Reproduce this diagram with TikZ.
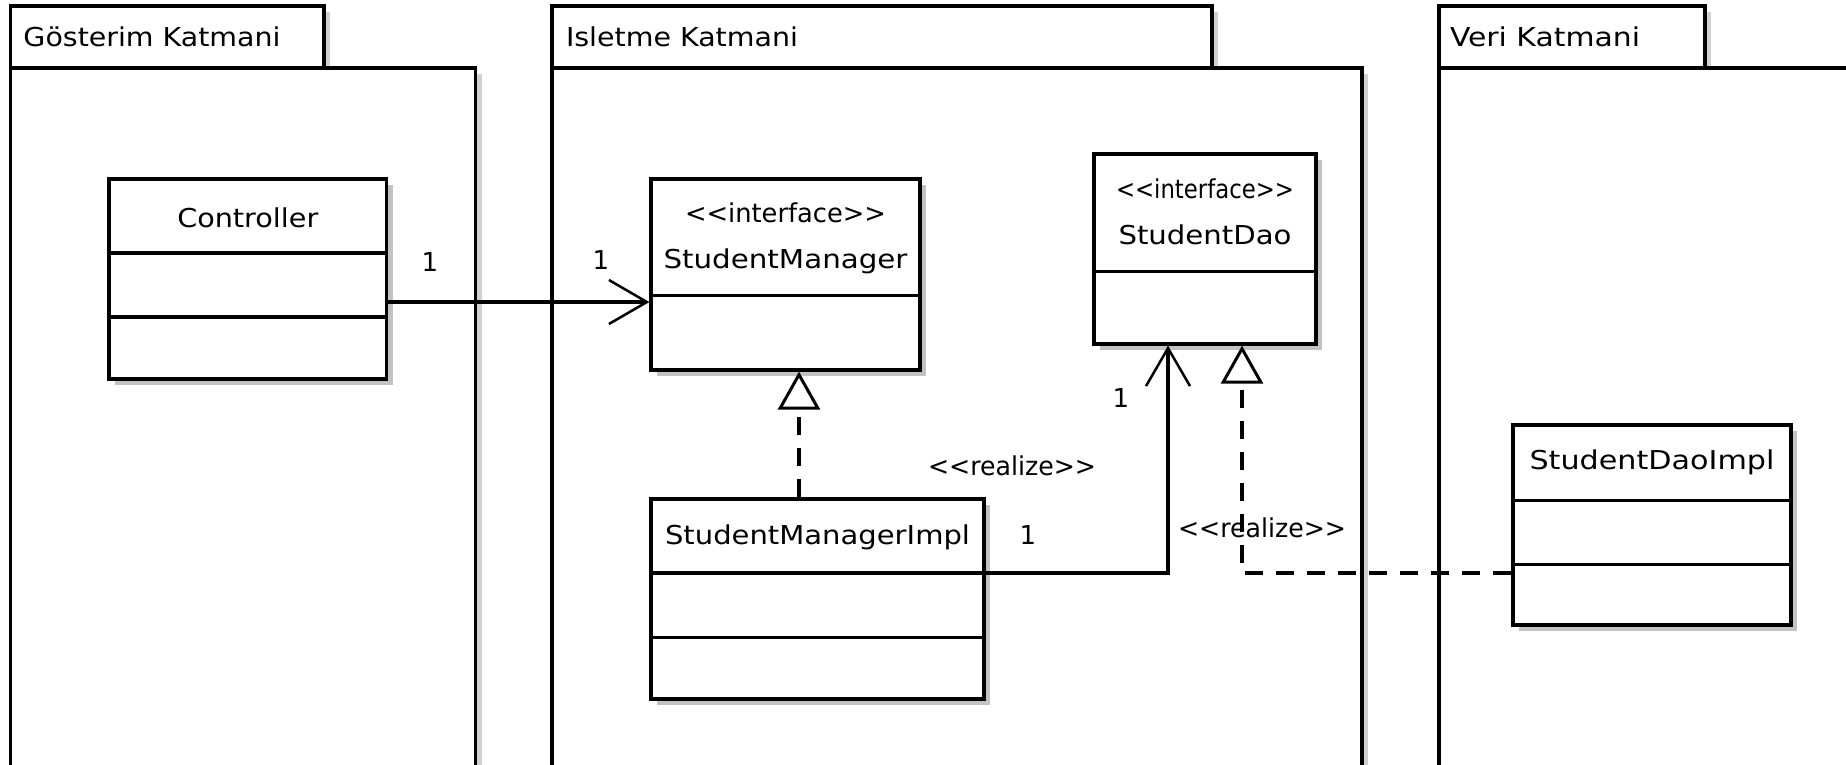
\documentclass[tikz,border=0pt]{standalone}
\usepackage{fontspec}
\setmainfont{DejaVu Sans}[Ligatures=TeXOff]
\usetikzlibrary{arrows.meta,fit,shadows}
% set a label to a fixed width, keeping its natural height
\newcommand{\wtxt}[2]{\resizebox{#1}{\height}{#2}}
\tikzset{
  ln/.style={line width=1.6pt, draw=black},
  umlbox/.style={ln, fill=white, inner sep=0pt,
    general shadow={fill=black!24, shadow xshift=3pt, shadow yshift=-3pt}},
  pkgpart/.style={ln, fill=white, inner sep=0pt,
    general shadow={fill=black!18, shadow xshift=3pt, shadow yshift=-3pt}},
  lbl/.style={inner sep=0pt, font=\fontsize{13}{15}\selectfont},
  assoc/.style={ln, -{Straight Barb[length=19pt,width=22pt,line width=1.25pt]}},
  realize/.style={ln, dash pattern=on 9pt off 6.5pt,
    -{Triangle[open,fill=white,length=19pt,width=21pt,line width=1.5pt]}},
}
\begin{document}
\begin{tikzpicture}[x=0.5pt, y=-0.5pt]
\useasboundingbox (0,0) rectangle (1846,765);
\clip (0,0) rectangle (1846,765);

% ---- packages (layers) ----
\node[pkgpart, fit={(10.5,6) (324,68)}] (tabA) {};
\node[pkgpart, fit={(10.5,68) (475.5,830)}] (pkgA) {};
\node[lbl] (titleA) at (152,37) {\wtxt{128.5pt}{Gösterim Katmani}};

\node[pkgpart, fit={(552,6) (1212,68)}] (tabB) {};
\node[pkgpart, fit={(552,68) (1362,830)}] (pkgB) {};
\node[lbl] (titleB) at (682,37) {\wtxt{116pt}{Isletme Katmani}};

\node[pkgpart, fit={(1439,6) (1705,68)}] (tabC) {};
\node[pkgpart, fit={(1439,68) (1920,830)}] (pkgC) {};
\node[lbl] (titleC) at (1545,37) {\wtxt{95pt}{Veri Katmani}};

% ---- classes ----
\node[umlbox, fit={(109,179) (386.5,379)}] (ctrl) {};
\draw[ln] (ctrl.west |- 0,253) -- (ctrl.east |- 0,253);
\draw[ln] (ctrl.west |- 0,317) -- (ctrl.east |- 0,317);
\node[lbl] (ctrlN) at (247.75,218) {\wtxt{70.5pt}{Controller}};

\node[umlbox, fit={(651,179) (920,370)}] (sm) {};
\draw[ln] (sm.west |- 0,295.5) -- (sm.east |- 0,295.5);
\node[lbl] (smS) at (785.5,213) {\wtxt{100.5pt}{<<interface>>}};
\node[lbl] (smN) at (785.5,261) {\wtxt{122pt}{StudentManager}};

\node[umlbox, fit={(1094,154) (1316,344)}] (sd) {};
\draw[ln] (sd.west |- 0,271.5) -- (sd.east |- 0,271.5);
\node[lbl] (sdS) at (1205,189) {\wtxt{89pt}{<<interface>>}};
\node[lbl] (sdN) at (1205,235) {\wtxt{86.5pt}{StudentDao}};

\node[umlbox, fit={(651,499) (984,699)}] (smi) {};
\draw[ln] (smi.west |- 0,573) -- (smi.east |- 0,573);
\draw[ln] (smi.west |- 0,637.5) -- (smi.east |- 0,637.5);
\node[lbl] (smiN) at (817.5,537) {\wtxt{152.5pt}{StudentManagerImpl}};

\node[umlbox, fit={(1513,425) (1791,625)}] (sdi) {};
\draw[ln] (sdi.west |- 0,500.5) -- (sdi.east |- 0,500.5);
\draw[ln] (sdi.west |- 0,564.5) -- (sdi.east |- 0,564.5);
\node[lbl] (sdiN) at (1652,462) {\wtxt{122.5pt}{StudentDaoImpl}};

% ---- connectors ----
\coordinate (yCtrl) at (0,302);
\coordinate (yImpl) at (0,573);
\coordinate (xSm) at (799,0);
\coordinate (xUse) at (1168,0);
\coordinate (xReal) at (1242,0);

\draw[assoc] (ctrl.east |- yCtrl) -- (sm.west |- yCtrl);
\draw[realize] (smi.north -| xSm) -- (sm.south -| xSm);
\draw[assoc] (smi.east |- yImpl) -| (sd.south -| xUse);
\draw[realize] (sdi.west |- yImpl) -| (sd.south -| xReal);

% ---- connector labels ----
\node[lbl] (m1) at (430,262) {1};
\node[lbl] (m2) at (601,260) {1};
\node[lbl] (m3) at (1121,398) {1};
\node[lbl] (m4) at (1028,535) {1};
\node[lbl] (r1) at (1012,466) {\wtxt{84pt}{<<realize>>}};
\node[lbl] (r2) at (1262,528) {\wtxt{84pt}{<<realize>>}};
\end{tikzpicture}
\end{document}
